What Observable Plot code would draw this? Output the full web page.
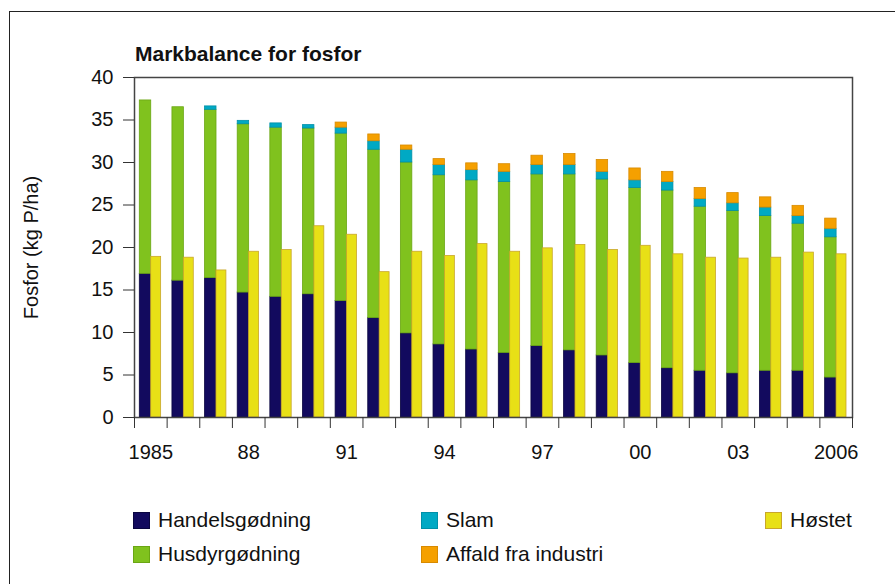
<!DOCTYPE html>
<html><head><meta charset="utf-8">
<script src="https://cdn.jsdelivr.net/npm/d3@7"></script>
<script src="https://cdn.jsdelivr.net/npm/@observablehq/plot@0.6"></script>
<style>
body{margin:0;background:#fff;font-family:"Liberation Sans",Arial,sans-serif;color:#111;}
#wrap{position:relative;width:895px;height:584px;overflow:hidden;background:#fff;}
#box{position:absolute;left:9px;top:11px;width:1000px;height:1000px;border-left:1.5px solid #222;border-top:1.5px solid #222;}
#title{position:absolute;left:135px;top:44px;font-weight:bold;font-size:21px;line-height:20px;}
#chart{position:absolute;left:0;top:0;}
.leg{position:absolute;font-size:21px;line-height:20px;display:flex;align-items:center;height:20px;white-space:nowrap;}
.sw{width:15px;height:15px;border:1px solid;margin-right:8px;box-sizing:content-box;}
</style></head><body>
<div id="wrap"><div id="box"></div><div id="title">Markbalance for fosfor</div><div id="chart"></div><div id="legend"></div></div>
<script>
const years = [1985,1986,1987,1988,1989,1990,1991,1992,1993,1994,1995,1996,1997,1998,1999,2000,2001,2002,2003,2004,2005,2006];
const handels = [16.9,16.1,16.4,14.7,14.2,14.5,13.7,11.7,9.9,8.6,8.0,7.6,8.4,7.9,7.3,6.4,5.8,5.5,5.2,5.5,5.5,4.7];
const husdyr  = [20.4,20.4,19.8,19.8,19.9,19.5,19.7,19.8,20.1,19.9,19.9,20.1,20.2,20.7,20.7,20.6,20.9,19.3,19.1,18.2,17.3,16.5];
const slam    = [0,0,0.4,0.4,0.5,0.4,0.7,1.0,1.5,1.2,1.2,1.2,1.1,1.1,0.9,0.9,1.0,0.9,0.9,1.0,0.9,1.0];
const affald  = [0,0,0,0,0,0,0.6,0.8,0.5,0.7,0.8,0.9,1.1,1.3,1.4,1.4,1.2,1.3,1.2,1.2,1.2,1.2];
const hostet  = [18.9,18.8,17.3,19.5,19.7,22.5,21.5,17.1,19.5,19.0,20.4,19.5,19.9,20.3,19.7,20.2,19.2,18.8,18.7,18.8,19.4,19.2];
const stackSeries = ["Handelsgødning","Husdyrgødning","Slam","Affald fra industri"];
const harvestName = "Høstet";
const colors  = ["#120a5e","#80c21e","#00a9c4","#f5a000","#e8e016"];
const edges   = ["#0a0640","#6aa614","#0090a8","#d88a00","#c9a62a"];
const yTicks = [0,5,10,15,20,25,30,35,40];
const xLabelYears = [1985,1988,1991,1994,1997,2000,2003,2006];
const xLabels = ["1985","88","91","94","97","00","03","2006"];
const yLabel = "Fosfor (kg P/ha)";

const stackVals = [handels, husdyr, slam, affald];
const stackData = stackSeries.flatMap((s,k) => years.map((y,i) => ({year:y, series:s, value:stackVals[k][i]}))).filter(d => d.value > 0);
const harvestData = years.map((y,i) => ({year:y, series:harvestName, value:hostet[i]}));

const W = 895, H = 470, mL = 134, mR = 43, mT = 77, mB = 53;
const band = (W - mL - mR) / years.length;
const allNames = [...stackSeries, harvestName];

const chart = Plot.plot({
  width: W, height: H, marginLeft: mL, marginRight: mR, marginTop: mT, marginBottom: mB,
  style: {fontFamily: "'Liberation Sans', Arial, sans-serif", fontSize: "20px", color: "#111", background: "transparent", overflow: "visible"},
  x: {type: "band", domain: years, padding: 0, round: false, axis: null},
  y: {domain: [0, 40], axis: null},
  color: {domain: allNames, range: colors},
  marks: [
    Plot.barY(stackData, {x: "year", y: "value", fill: "series", stroke: d => edges[allNames.indexOf(d.series)], strokeWidth: 0.8, insetLeft: 5.3, insetRight: 15.9}),
    Plot.barY(harvestData, {x: "year", y: "value", fill: "series", stroke: edges[4], strokeWidth: 0.8, insetLeft: 16.7, insetRight: 6}),
    Plot.frame({stroke: "#444", strokeWidth: 1.5}),
    Plot.axisY(yTicks, {tickSize: 11, tickPadding: 10, stroke: "#333", label: yLabel, labelAnchor: "center", labelArrow: "none", labelOffset: 111}),
    Plot.axisX(years, {tickSize: 11, fill: "none", stroke: "#333", dx: -band/2, label: null}),
    Plot.axisX([years[years.length-1]], {tickSize: 11, fill: "none", stroke: "#333", dx: band/2, label: null}),
    Plot.axisX(xLabelYears, {tickSize: 0, tickPadding: 27, label: null, tickFormat: d => xLabels[xLabelYears.indexOf(d)]})
  ]
});
document.getElementById("chart").appendChild(chart);

const legendPos = [
  {name: "Handelsgødning", left: 133, top: 510},
  {name: "Husdyrgødning", left: 133, top: 544},
  {name: "Slam", left: 421, top: 510},
  {name: "Affald fra industri", left: 421, top: 544},
  {name: "Høstet", left: 765, top: 510}
];
const lg = document.getElementById("legend");
legendPos.forEach(p => {
  const k = allNames.indexOf(p.name);
  const el = document.createElement("div");
  el.className = "leg";
  el.style.left = p.left + "px";
  el.style.top = p.top + "px";
  el.innerHTML = `<span class="sw" style="background:${colors[k]};border-color:${edges[k]}"></span><span>${p.name}</span>`;
  lg.appendChild(el);
});
</script>
</body></html>
